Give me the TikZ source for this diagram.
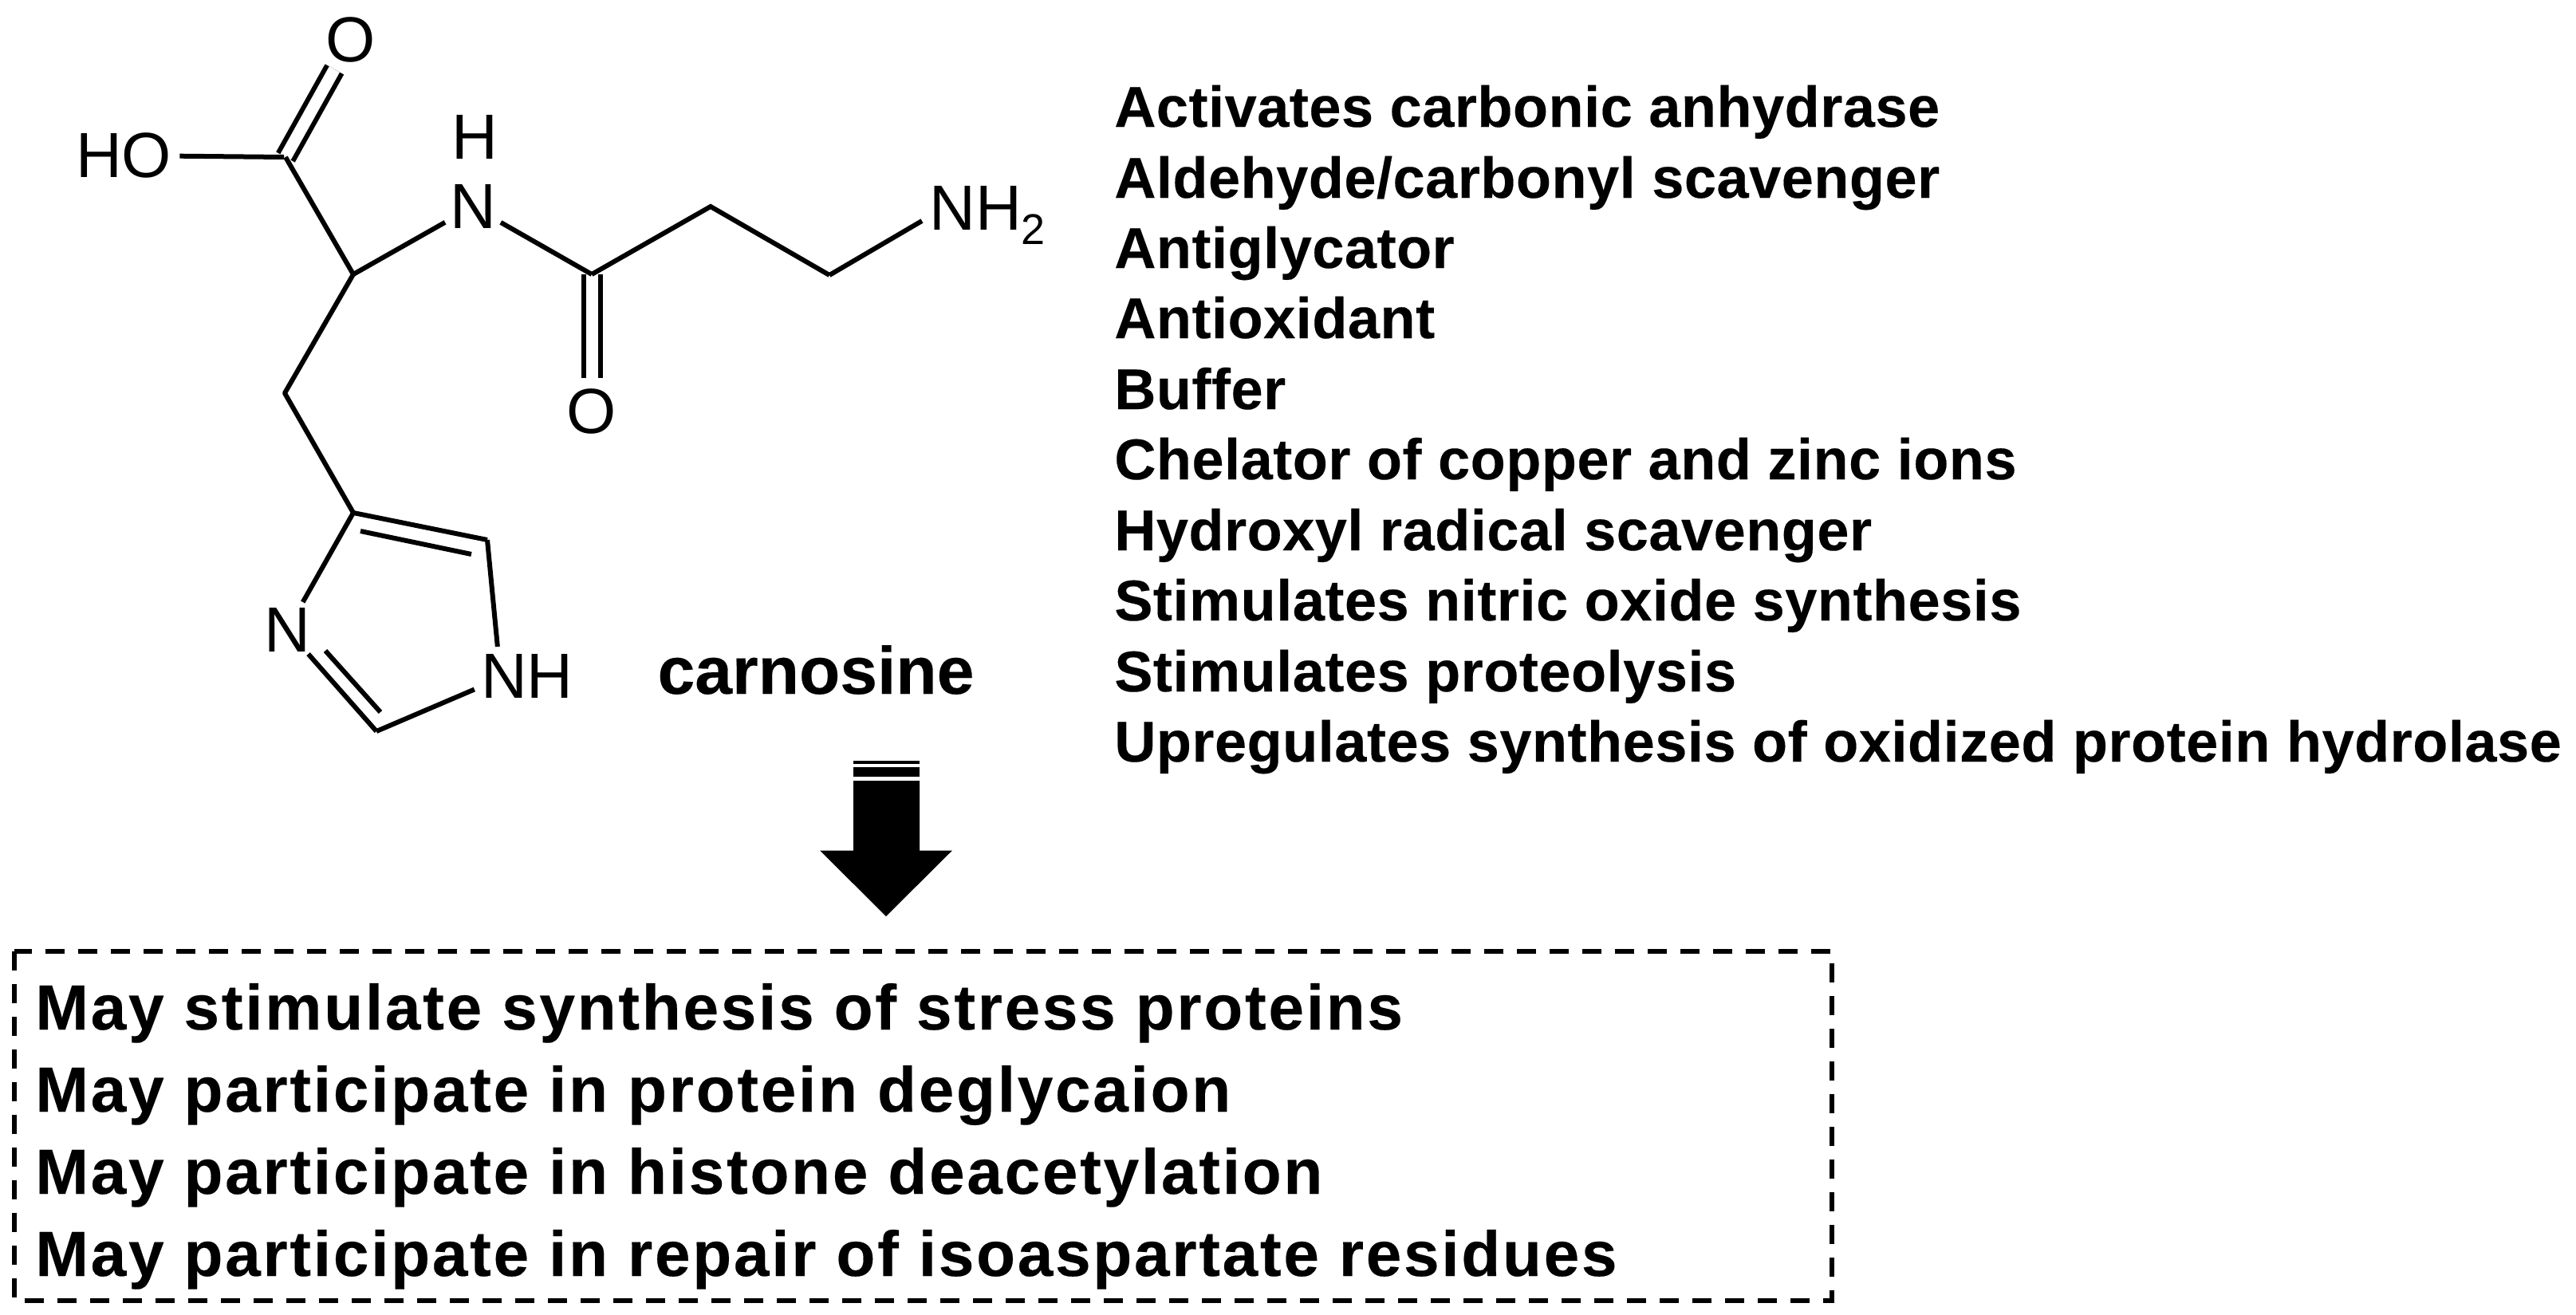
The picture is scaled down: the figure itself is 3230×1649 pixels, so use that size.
\documentclass[tikz,border=0pt]{standalone}
\usepackage{fontspec}
\setmainfont{Liberation Sans}
\usetikzlibrary{calc}
\tikzset{
  x=0.5pt,y=-0.5pt,
  bond/.style={line width=3pt,black,line cap=butt,line join=miter},
  dbl/.style={bond,double,double distance=7.5pt},
  atom/.style={font=\fontsize{40}{40}\selectfont,inner sep=0pt,circle,minimum size=37pt},
  atomr/.style={font=\fontsize{40}{40}\selectfont,inner sep=0pt,rectangle},
  listtext/.style={font=\fontsize{36}{43}\bfseries\addfontfeatures{LetterSpace=0.8,FakeBold=0.25},anchor=base west,inner sep=0pt},
  boxtext/.style={font=\fontsize{40}{50}\bfseries\addfontfeatures{LetterSpace=3.5,FakeBold=0.25},anchor=base west,inner sep=0pt},
  nametext/.style={font=\fontsize{42}{42}\bfseries\addfontfeatures{FakeBold=0.25},anchor=base,inner sep=0pt},
  dashbox/.style={line width=3.2pt,dash pattern=on 12pt off 8.5pt,black},
}
\begin{document}
\begin{tikzpicture}
\useasboundingbox (0,0) rectangle (3230,1649);
% carbon skeleton
\coordinate (C1) at (358,197);
\coordinate (Ca) at (443,344);
\coordinate (Cam) at (742,344);
\coordinate (Cb) at (891,259);
\coordinate (Cc) at (1040,345);
\coordinate (Cd) at (357,493);
\coordinate (C4) at (443,643);
\coordinate (C5) at (611,677);
\coordinate (C2) at (472,917);
% hetero atoms
\node[atom] (Otop) at (440,50) {O};
\node[atomr,inner xsep=5pt,minimum height=37pt] (ho) at (155,195) {HO};
\node[atom] (N) at (593,259) {N};
\node[atomr] (Nh) at (595,172) {H};
\node[atom] (Obot) at (742,516) {O};
\node[atomr,inner xsep=4.5pt,text height=28pt,text depth=0pt,anchor=west] (nh2) at (1156,260) {NH\raisebox{-9pt}{\fontsize{27}{27}\selectfont 2}};
\node[atom] (Nr) at (360,790) {N};
\node[atomr,inner xsep=4pt,inner ysep=4.6pt] (nh) at (661,848) {NH};
% bonds
\draw[dbl] (C1) -- (Otop);
\draw[dbl] (Cam) -- (Obot);
\draw[bond] (ho) -- (356,197) coordinate (hoend);
\draw[bond,line join=bevel] (C1) -- (Ca) -- (Cd) -- (C4);
\draw[bond] (Ca) -- (N);
\draw[bond] (N) -- (Cam);
\draw[bond,line join=miter] (Cam) -- (Cb) -- (Cc);
\draw[bond] (Cc) -- ($(nh2.west)+(0,-8.5pt)$);
\draw[bond] (C4) -- (C5);
\draw[bond] (C5) -- (nh.135);
\draw[bond] (C2) -- (nh.194);
\draw[bond] (C4) -- (Nr);
\draw[bond] (Nr) -- (C2);
\coordinate (r1) at (452,666);
\coordinate (r2) at (591,695);
\coordinate (r3) at (408,816);
\coordinate (r4) at (477,893);
\draw[bond] (r1) -- (r2);
\draw[bond] (r3) -- (r4);
% name
\node[nametext] (name) at (1023,870) {carnosine};
% right list
\node[listtext] (l1) at (1397,159) {Activates carbonic anhydrase};
\node[listtext] (l2) at (1397,248) {Aldehyde/carbonyl scavenger};
\node[listtext] (l3) at (1397,336) {Antiglycator};
\node[listtext] (l4) at (1397,424) {Antioxidant};
\node[listtext] (l5) at (1397,513) {Buffer};
\node[listtext] (l6) at (1397,601) {Chelator of copper and zinc ions};
\node[listtext] (l7) at (1397,690) {Hydroxyl radical scavenger};
\node[listtext] (l8) at (1397,778) {Stimulates nitric oxide synthesis};
\node[listtext] (l9) at (1397,867) {Stimulates proteolysis};
\node[listtext] (l10) at (1397,955) {Upregulates synthesis of oxidized protein hydrolase};
% arrow
\fill (1070,953.5) rectangle (1153,958);
\fill (1070,962) rectangle (1153,974);
\fill (1070,979) -- (1153,979) -- (1153,1066.5) -- (1194,1066.5) -- (1111,1149) -- (1028,1066.5) -- (1070,1066.5) -- cycle;
% dashed box
\draw[dashbox] (18,1193) rectangle (2297,1631);
\node[boxtext] (b1) at (44,1291) {May stimulate synthesis of stress proteins};
\node[boxtext] (b2) at (44,1394) {May participate in protein deglycaion};
\node[boxtext] (b3) at (44,1497) {May participate in histone deacetylation};
\node[boxtext] (b4) at (44,1600) {May participate in repair of isoaspartate residues};
\end{tikzpicture}
\end{document}
